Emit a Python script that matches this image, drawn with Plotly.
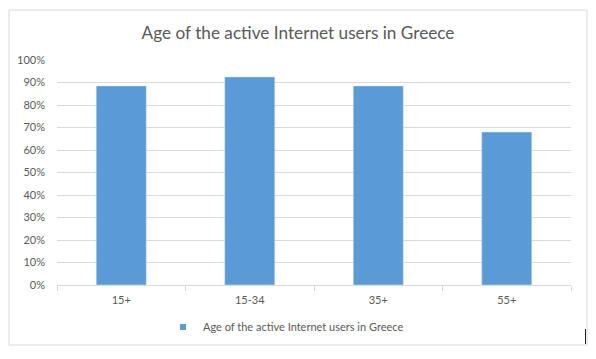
import plotly.graph_objects as go

categories = ["15+", "15-34", "35+", "55+"]
values = [0.885, 0.925, 0.885, 0.68]
series_name = "Age of the active Internet users in Greece"
title_text = "Age of the active Internet users in Greece"

BAR = "#5b9bd5"
TXT = "#595959"
GRID = "#d9d9d9"
FONT = "Lato, 'Liberation Sans', sans-serif"

fig = go.Figure()
fig.add_trace(go.Bar(x=categories, y=values, marker_color=BAR, width=0.39,
                     showlegend=False, name=series_name))
# legend proxy with small square symbol
fig.add_trace(go.Scatter(x=[categories[0]], y=[None], mode="markers",
                         marker=dict(symbol="square", size=6, color=BAR),
                         name=series_name, showlegend=True))

L, R, T, B = 57, 25, 60, 74
PW, PH = 596 - L - R, 359 - T - B
fig.update_layout(
    width=596, height=359,
    margin=dict(l=L, r=R, t=T, b=B),
    paper_bgcolor="white", plot_bgcolor="white",
    font=dict(family=FONT, size=11, color=TXT),
    title=dict(text=title_text, x=0.5, xref="container", xanchor="center",
               y=1 - 33 / 359, yanchor="middle",
               font=dict(size=17.2, color=TXT, family=FONT)),
    legend=dict(orientation="h", x=(163 - L) / PW, xanchor="left",
                y=-(327 - 285) / PH, yanchor="middle",
                font=dict(size=11, color=TXT), itemwidth=30, bgcolor="rgba(0,0,0,0)"),
    shapes=[dict(type="rect", xref="paper", yref="paper",
                 x0=(9 - L) / PW, x1=(587 - L) / PW,
                 y0=-(345 - 285) / PH, y1=1 + (T - 10) / PH,
                 line=dict(color=GRID, width=1), layer="below"),
            dict(type="line", xref="paper", yref="paper",
                 x0=(585.5 - L) / PW, x1=(585.5 - L) / PW,
                 y0=-(344 - 285) / PH, y1=-(329 - 285) / PH,
                 line=dict(color="#222222", width=1))],
)
fig.update_xaxes(showgrid=False, showline=True, linecolor=GRID, linewidth=1,
                 ticks="outside", tickson="boundaries", ticklen=5, tickcolor=GRID,
                 ticklabelstandoff=5,
                 tickfont=dict(size=11, color=TXT), fixedrange=True)
fig.update_yaxes(range=[0, 1], dtick=0.1, tickformat=".0%", showgrid=True,
                 gridcolor=GRID, gridwidth=1, zeroline=False, showline=False,
                 ticks="", ticklabelstandoff=11,
                 tickfont=dict(size=11, color=TXT), fixedrange=True)

fig.write_html("out.html", config={"displayModeBar": False},
               post_script="document.body.style.margin='0';")
